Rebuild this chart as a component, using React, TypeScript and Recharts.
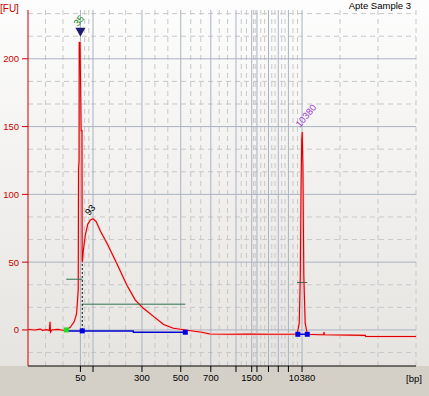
import { ComposedChart, Line, Scatter, XAxis, YAxis, CartesianGrid } from "recharts";

// migration time (s) vs fluorescence (FU)
const trace = [
  [20.1, 0.3], [22.0, 0], [23.5, 0.6], [24.2, -0.3], [25.3, 0.2], [26.1, -0.5],
  [26.3, 6], [26.45, -1.5], [26.8, 0], [28.5, 0.4], [30.0, -0.2], [31.0, 0],
  [32.1, 2], [33.2, 6], [33.9, 12], [34.38, 30], [34.47, 119], [34.62, 125],
  [34.67, 212], [34.9, 212], [35.2, 147], [35.44, 147], [35.5, 52], [35.55, 50],
  [35.8, 58], [36.4, 70], [37.1, 78], [37.8, 81], [38.6, 82], [39.5, 80],
  [40.7, 73], [42.6, 64], [45.4, 49], [48.3, 33], [50.7, 22], [53.0, 16],
  [55.9, 10], [58.8, 4], [61.6, 1.2], [65.0, 0], [69.3, -1.5], [72.1, -3],
  [77.8, -3.2], [83.5, -3], [89.3, -3.2], [95.0, -3.2], [97.0, -3], [97.6, 5],
  [97.9, 40], [98.1, 100], [98.3, 140], [98.45, 146], [98.65, 120], [98.9, 40],
  [99.3, 5], [99.9, -3.2], [103.6, -3.6], [104.6, -3.6], [104.7, -1.5], [104.8, -3.6],
  [112.2, -3.8], [116.5, -4], [116.6, -4.8], [131, -4.8],
].map(([t, fu]) => ({ t, fu }));

// ladder positions on the time axis and their bp labels
const ladderTimes = [35.0, 38.6, 52.6, 63.7, 72.3, 79.5, 84.0, 85.5, 88.8, 91.6, 94.5, 98.4];
const ladderLabels = ["50", "", "300", "500", "700", "", "1500", "", "", "", "", "10380"];
const fuTicks = [0, 50, 100, 150, 200];

const X_MIN = 20;
const X_MAX = 131;
const Y_MIN = -26.6;
const Y_MAX = 236;

// minor grid: each interval split in three
const xEdges = [X_MIN, ...ladderTimes, X_MAX];
const xMinor: number[] = [];
for (let i = 0; i < xEdges.length - 1; i++) {
  const a = xEdges[i], b = xEdges[i + 1];
  xMinor.push(a + (b - a) / 3, a + (2 * (b - a)) / 3);
}
xMinor.push(X_MAX);
const yMinor = [-16.67, 16.67, 33.33, 66.67, 83.33, 116.67, 133.33, 166.67, 183.33, 216.67, 233.33];

const regionBase = [
  { t: 30.95, fu: -0.7 }, { t: 35.52, fu: -0.7 }, { t: 50.1, fu: -0.8 },
  { t: 50.15, fu: -1.7 }, { t: 65.0, fu: -1.7 },
];
const upperBase = [{ t: 97.2, fu: -3.2 }, { t: 99.9, fu: -3.2 }];
const blueSquares = [
  { t: 35.52, fu: -0.7 }, { t: 65.0, fu: -1.7 }, { t: 97.2, fu: -3.2 }, { t: 99.9, fu: -3.2 },
];
const greenSquares = [{ t: 30.95, fu: 0 }];
const lowerHalf = [{ t: 30.95, fu: 37.4 }, { t: 35.52, fu: 37.4 }];
const smearHalf = [{ t: 35.52, fu: 19 }, { t: 65.0, fu: 19 }];
const upperHalf = [{ t: 97.0, fu: 35 }, { t: 99.9, fu: 35 }];
const regionStart = [{ t: 35.52, fu: 0 }, { t: 35.52, fu: 50 }];
const markerTri = [{ t: 35.0, fu: 219.5 }];
const peakLabels = [
  { t: 34.3, fu: 223.6, text: "35", color: "#138a13" },
  { t: 37.5, fu: 84.0, text: "93", color: "#000000" },
  { t: 97.8, fu: 149, text: "10380", color: "#a040d0" },
];

const FONT = "'Liberation Sans', Arial, sans-serif";

const Square = (color: string) => (p: any) => (
  <rect x={p.cx - 2.5} y={p.cy - 2.5} width={5} height={5} fill={color} />
);

const Triangle = (p: any) => (
  <polygon
    points={`${p.cx - 5},${p.cy - 4.5} ${p.cx + 5},${p.cy - 4.5} ${p.cx},${p.cy + 4.5}`}
    fill="#1c1c6c"
  />
);

const PeakText = (p: any) => (
  <text
    x={p.cx}
    y={p.cy}
    fill={p.payload.color}
    fontSize={9.5}
    fontFamily={FONT}
    transform={`rotate(-50 ${p.cx} ${p.cy})`}
  >
    {p.payload.text}
  </text>
);

export default function App() {
  return (
    <div
      style={{
        position: "absolute",
        left: 0,
        top: 0,
        width: 429,
        height: 396,
        background: "linear-gradient(to bottom, #fdfdfd 0px, #e6e4e0 366px, #d4d0c8 366px, #d4d0c8 396px)",
        fontFamily: FONT,
      }}
    >
      <div style={{ position: "absolute", left: 0, top: 3, fontSize: 10, color: "#cc0000" }}>[FU]</div>
      <div style={{ position: "absolute", right: 18, top: 0, fontSize: 9.5, color: "#000" }}>Apte Sample 3</div>
      <div style={{ position: "absolute", left: 406, top: 373, fontSize: 9.5, color: "#000" }}>[bp]</div>
      <ComposedChart width={429} height={396} margin={{ top: 10, right: 13, bottom: 0, left: 0 }}>
        <CartesianGrid
          stroke="#c8c8c8"
          strokeDasharray="5 4"
          verticalValues={xMinor}
          horizontalValues={yMinor}
        />
        <CartesianGrid stroke="#aab2c2" verticalValues={ladderTimes} horizontalValues={fuTicks} />
        <XAxis
          type="number"
          dataKey="t"
          domain={[X_MIN, X_MAX]}
          allowDataOverflow
          ticks={ladderTimes}
          interval={0}
          tickFormatter={(v: number) => ladderLabels[ladderTimes.indexOf(v)] ?? ""}
          height={30}
          stroke="#000"
          tickSize={6}
          tickMargin={2}
          tick={{ fill: "#000", fontSize: 9.5, fontFamily: FONT }}
        />
        <YAxis
          type="number"
          domain={[Y_MIN, Y_MAX]}
          allowDataOverflow
          ticks={fuTicks}
          interval={0}
          width={28}
          stroke="#cc0000"
          tickSize={6}
          tickMargin={3}
          tick={{ fill: "#cc0000", fontSize: 9.5, fontFamily: FONT }}
        />
        <Line data={trace} dataKey="fu" type="linear" stroke="#f6c6c6" strokeWidth={2.4} dot={false} isAnimationActive={false} />
        <Line data={trace} dataKey="fu" type="linear" stroke="#dd0000" strokeWidth={1.1} dot={false} isAnimationActive={false} />
        <Line data={regionBase} dataKey="fu" type="linear" stroke="#0000cc" strokeWidth={1.5} dot={false} isAnimationActive={false} />
        <Line data={upperBase} dataKey="fu" type="linear" stroke="#0000cc" strokeWidth={1.5} dot={false} isAnimationActive={false} />
        <Line data={lowerHalf} dataKey="fu" type="linear" stroke="#2e6e4e" strokeWidth={1} dot={false} isAnimationActive={false} />
        <Line data={smearHalf} dataKey="fu" type="linear" stroke="#2e6e4e" strokeWidth={1} dot={false} isAnimationActive={false} />
        <Line data={upperHalf} dataKey="fu" type="linear" stroke="#4a6050" strokeWidth={1} dot={false} isAnimationActive={false} />
        <Line data={regionStart} dataKey="fu" type="linear" stroke="#000" strokeWidth={1} strokeDasharray="2 2" dot={false} isAnimationActive={false} />
        <Scatter data={blueSquares} dataKey="fu" shape={Square("#0000e0")} isAnimationActive={false} />
        <Scatter data={greenSquares} dataKey="fu" shape={Square("#22dd22")} isAnimationActive={false} />
        <Scatter data={markerTri} dataKey="fu" shape={Triangle} isAnimationActive={false} />
        <Scatter data={peakLabels} dataKey="fu" shape={PeakText} isAnimationActive={false} />
      </ComposedChart>
    </div>
  );
}
